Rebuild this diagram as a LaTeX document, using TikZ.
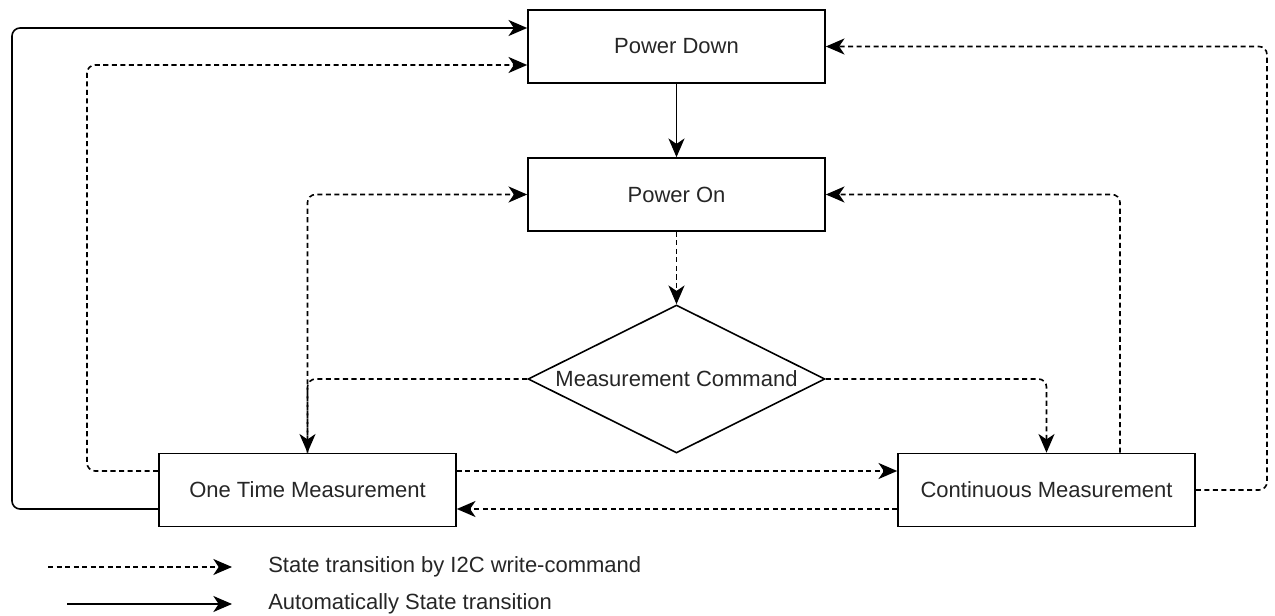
\documentclass[tikz,border=0pt]{standalone}
\usepackage{fontspec}
\setmainfont{Liberation Sans}
\usetikzlibrary{arrows.meta,shapes.geometric,calc}
\begin{document}
\begin{tikzpicture}[x=0.75pt,y=-0.75pt,
  every node/.style={font=\fontsize{16.5}{20}\selectfont, text=black!85},
  statebox/.style={draw, line width=1.2pt, minimum width=222.75pt, minimum height=54.75pt, inner sep=0pt},
  decide/.style={draw, diamond, line width=1.2pt, minimum width=222.75pt, minimum height=111pt, inner sep=0pt},
  conn/.style={line width=1.2pt, rounded corners=6pt, -{Stealth[length=14pt,width=12pt,inset=4pt]}},
  i2c/.style={conn, dash pattern=on 3.8pt off 2.6pt},
  auto/.style={conn}]
\useasboundingbox (0,0) rectangle (1275,616);

% states
\node[statebox] (pd) at (676.5,46.5) {Power Down};
\node[statebox] (po) at (676.5,194.5) {Power On};
\node[decide] (mc) at (676.5,379) {};
\node (mctext) at (mc.center) {Measurement Command};
\node[statebox] (otm) at (307.5,490) {One Time Measurement};
\node[statebox] (cm) at (1046.5,490) {Continuous Measurement};

% routing levels
\coordinate (r28) at (0,28);
\coordinate (r46) at (0,46.5);
\coordinate (r65) at (0,65);
\coordinate (r194) at (0,194.5);
\coordinate (r379) at (0,379);
\coordinate (r471) at (0,471);
\coordinate (r509) at (0,509);
\coordinate (c1120) at (1120,0);

% automatic transitions
\draw[auto] (otm.west |- r509) -- (12,509) -- (12,28) -- (pd.west |- r28);
\draw[auto] (pd.south) -- (po.north);

% I2C write-command transitions
\draw[i2c] (otm.west |- r471) -- (87,471) -- (87,65) -- (pd.west |- r65);
\draw[i2c] (po.south) -- (mc.north);
\draw[i2c] (mc.west) -- (otm.north |- r379) -- (otm.north);
\draw[i2c] (otm.north) -- (otm.north |- r194) -- (po.west);
\draw[i2c] (mc.east) -- (cm.north |- r379) -- (cm.north);
\draw[i2c] (cm.north -| c1120) -- (c1120 |- r194) -- (po.east);
\draw[i2c] (cm.east) -- (1267,490) -- (1267,46.5) -- (pd.east);
\draw[i2c] (otm.east |- r471) -- (cm.west |- r471);
\draw[i2c] (cm.west |- r509) -- (otm.east |- r509);

% legend
\coordinate (l1a) at (48,567);
\coordinate (l1b) at (232,567);
\coordinate (l2a) at (67,604);
\coordinate (l2b) at (232,604);
\draw[i2c] (l1a) -- (l1b);
\draw[auto] (l2a) -- (l2b);
\node[anchor=west, inner sep=0pt] (leg1) at (268,567) {State transition by I2C write-command};
\node[anchor=west, inner sep=0pt] (leg2) at (268,604) {Automatically State transition};
\end{tikzpicture}
\end{document}
